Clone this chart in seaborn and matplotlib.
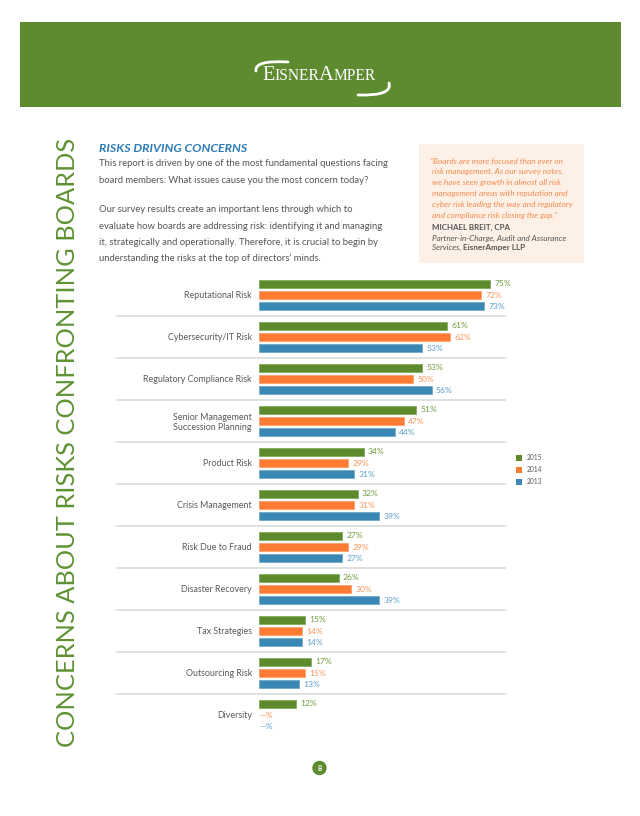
import numpy as np
import pandas as pd
import matplotlib
matplotlib.use("Agg")
import matplotlib.pyplot as plt
import seaborn as sns
from matplotlib.patches import Patch, Rectangle, Circle
from matplotlib.path import Path
from matplotlib.patches import PathPatch

# ---------------- data ----------------
categories = ["Reputational Risk", "Cybersecurity/IT Risk", "Regulatory Compliance Risk",
              "Senior Management\nSuccession Planning", "Product Risk", "Crisis Management",
              "Risk Due to Fraud", "Disaster Recovery", "Tax Strategies", "Outsourcing Risk",
              "Diversity"]
years = ["2015", "2014", "2013"]
v2015 = [75, 61, 53, 51, 34, 32, 27, 26, 15, 17, 12]
v2014 = [72, 62, 50, 47, 29, 31, 29, 30, 14, 15, None]
v2013 = [73, 53, 56, 44, 31, 39, 27, 39, 14, 13, None]
series = {"2015": v2015, "2014": v2014, "2013": v2013}

bar_colors = ["#5e8a2e", "#fe7b33", "#3b87b3"]
edge_colors = ["#86ab5e", "#fea06d", "#73a9cb"]
label_colors = ["#6e9a3c", "#fb9359", "#5a9dca"]

title = "RISKS DRIVING CONCERNS"
para1 = ["This report is driven by one of the most fundamental questions facing",
         "board members: What issues cause you the most concern today?"]
para2 = ["Our survey results create an important lens through which to",
         "evaluate how boards are addressing risk: identifying it and managing",
         "it, strategically and operationally. Therefore, it is crucial to begin by",
         "understanding the risks at the top of directors\u2019 minds."]
quote = ["\u201cBoards are more focused than ever on",
         "risk management. As our survey notes,",
         "we have seen growth in almost all risk",
         "management areas with reputation and",
         "cyber risk leading the way and regulatory",
         "and compliance risk closing the gap.\u201d"]
author = "MICHAEL BREIT, CPA"
role1 = "Partner-in-Charge, Audit and Assurance"
role2a = "Services, "
role2b = "EisnerAmper LLP"
side_title = "CONCERNS ABOUT RISKS CONFRONTING BOARDS"
page_no = "8"

rows = []
for y in years:
    for c, v in zip(categories, series[y]):
        if v is not None:
            rows.append({"risk": c, "year": y, "value": v})
df = pd.DataFrame(rows)

# ---------------- figure ----------------
sns.set_theme(style="white")
plt.rcParams["font.family"] = ["Lato", "DejaVu Sans"]

W, H = 640, 816
fig = plt.figure(figsize=(W / 100, H / 100), dpi=100)
fig.patch.set_facecolor("white")

# overlay in pixel coordinates
ov = fig.add_axes([0, 0, 1, 1], zorder=0)
ov.set_xlim(0, W)
ov.set_ylim(H, 0)
ov.axis("off")

# header band
ov.add_patch(Rectangle((20, 22), 601, 85, color="#5e8b30", lw=0, zorder=1))

renderer = fig.canvas.get_renderer()

def text_runs(x, y, parts, **common):
    for s, kw in parts:
        opts = dict(common)
        opts.update(kw)
        t = ov.text(x, y, s, va="baseline", ha="left", **opts)
        bb = t.get_window_extent(renderer)
        x = ov.transData.inverted().transform((bb.x1, bb.y0))[0]
    return x

# logo
big = dict(fontsize=14.8)
small = dict(fontsize=11.2)
text_runs(262, 80, [("E", big), ("ISNER", small), ("A", big), ("MPER", small)],
          color="white", family="Liberation Serif", zorder=3)

def curve(p0, p1, p2, lw):
    path = Path([p0, p1, p2], [Path.MOVETO, Path.CURVE3, Path.CURVE3])
    ov.add_patch(PathPatch(path, fc="none", ec="white", lw=lw, capstyle="round", zorder=3))

curve((256, 71), (254, 60), (288, 62), 2.0)
curve((358, 95), (393, 96), (389, 83), 2.0)

# vertical side title
ov.text(68, 442, side_title, rotation=90, ha="center", va="center", fontsize=18.3,
        color="#5f9233", fontweight="normal", zorder=3)

# title and body
ov.text(99, 149, title, fontsize=8.9, fontweight="bold", style="italic",
        color="#2b7bb8", va="center", zorder=3)
for i, line in enumerate(para1):
    ov.text(99, 164 + i * 16.5, line, fontsize=6.85, color="#555555", va="center", zorder=3)
for i, line in enumerate(para2):
    ov.text(99, 210 + i * 16.2, line, fontsize=6.85, color="#555555", va="center", zorder=3)

# quote box
ov.add_patch(Rectangle((419, 144), 165, 119, color="#fdf1e7", lw=0, zorder=1))
for i, line in enumerate(quote):
    ov.text(430 if i == 0 else 432.5, 161 + i * 10.9, line, fontsize=5.95, style="italic",
            color="#f58a4c", va="center", zorder=3)
ov.text(432, 227.5, author, fontsize=5.7, fontweight="bold", color="#555555",
        va="center", zorder=3)
ov.text(432, 238, role1, fontsize=5.9, style="italic", color="#555555", va="center", zorder=3)
text_runs(432, 250.3, [(role2a, dict(style="italic")), (role2b, dict(fontweight="bold"))],
          fontsize=5.9, color="#555555", zorder=3)

# page number
ov.add_patch(Circle((319.5, 768), 7.2, color="#5e8b30", lw=0, zorder=2))
ov.text(319.5, 768.5, page_no, fontsize=5.2, fontweight="bold", color="white",
        ha="center", va="center", zorder=3)

# ---------------- chart ----------------
x0_px, x1_px = 258.7, 505.0
px_per_unit = 3.09
top_px, bot_px = 274.0, 736.0
ax = fig.add_axes([x0_px / W, 1 - bot_px / H, (x1_px - x0_px) / W, (bot_px - top_px) / H],
                  zorder=2)
ax.patch.set_alpha(0)

sns.barplot(data=df, y="risk", x="value", hue="year", order=categories, hue_order=years,
            palette=bar_colors, width=0.8, gap=0.31, errorbar=None, legend=False,
            saturation=1, ax=ax, orient="h")
for cont, ec in zip(ax.containers, edge_colors):
    for bar in cont:
        bar.set_edgecolor(ec)
        bar.set_linewidth(0.6)

ax.set_xlim(0, (x1_px - x0_px) / px_per_unit)
ax.set_ylim(len(categories) - 0.5, -0.5)
for s in ax.spines.values():
    s.set_visible(False)
ax.set_xticks([])
ax.set_xlabel("")
ax.set_ylabel("")
ax.tick_params(axis="y", length=0, pad=5, labelsize=6.4, labelcolor="#595959")

# separators spanning from the label column to the chart's right edge
sep_left = -(x0_px - 117) / (x1_px - x0_px)
for i in range(len(categories) - 1):
    ax.axhline(i + 0.5, xmin=sep_left, xmax=1, color="#dddddd", lw=1.3, clip_on=False,
               zorder=0)

# value labels
slot = 0.8 / len(years)
for j, y in enumerate(years):
    for i, v in enumerate(series[y]):
        ypos = i + (j - 1) * slot
        if v is None:
            ax.text(0.3, ypos, "\u2014%", va="center", ha="left", fontsize=6.1,
                    color=label_colors[j])
        else:
            ax.text(v + 1.3, ypos, f"{v}%", va="center", ha="left", fontsize=6.1,
                    color=label_colors[j])

# legend
handles = [Patch(facecolor=c, edgecolor="none") for c in bar_colors]
fig.legend(handles, years, loc="center left", bbox_to_anchor=(516 / W, 1 - 470 / H),
           frameon=False, fontsize=4.8, handlelength=0.9, handleheight=0.9,
           handletextpad=0.7, labelspacing=0.75, borderpad=0, borderaxespad=0,
           labelcolor="#595959")

fig.savefig("out.png", dpi=100, facecolor="white")
